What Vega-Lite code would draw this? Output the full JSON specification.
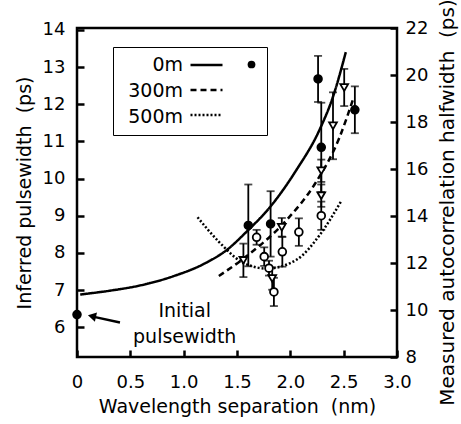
{
  "$schema": "https://vega.github.io/schema/vega-lite/v6.json",
  "width": 320,
  "height": 329,
  "autosize": {"type": "none"},
  "padding": {"left": 77, "top": 28, "right": 64, "bottom": 67},
  "background": "white",
  "config": {
    "view": {"stroke": "black", "strokeWidth": 2.5},
    "axis": {
      "grid": false,
      "domain": false,
      "ticks": true,
      "zindex": 1,
      "offset": -7,
      "tickSize": 7,
      "tickColor": "black",
      "tickWidth": 2.5,
      "tickOpacity": 1,
      "labelFont": "DejaVu Sans",
      "labelFontSize": 18,
      "labelColor": "black",
      "titleFont": "DejaVu Sans",
      "titleFontSize": 19,
      "titleFontWeight": "normal",
      "titleColor": "black",
      "labelOverlap": false,
      "labelFlush": false
    },
    "legend": {
      "labelFont": "DejaVu Sans",
      "labelFontSize": 19,
      "labelColor": "black"
    }
  },
  "datasets": {
    "curves": [
      {"series": "0m", "x": 0.03, "y": 6.88},
      {"series": "0m", "x": 0.3, "y": 6.98},
      {"series": "0m", "x": 0.6, "y": 7.13},
      {"series": "0m", "x": 0.9, "y": 7.37},
      {"series": "0m", "x": 1.2, "y": 7.72},
      {"series": "0m", "x": 1.4, "y": 8.07},
      {"series": "0m", "x": 1.6, "y": 8.6},
      {"series": "0m", "x": 1.8, "y": 9.2},
      {"series": "0m", "x": 2.05, "y": 10.2},
      {"series": "0m", "x": 2.28, "y": 11.35},
      {"series": "0m", "x": 2.4, "y": 12.2},
      {"series": "0m", "x": 2.52, "y": 13.4},
      {"series": "300m", "x": 1.33, "y": 7.38},
      {"series": "300m", "x": 1.62, "y": 7.98},
      {"series": "300m", "x": 1.97, "y": 8.9},
      {"series": "300m", "x": 2.24, "y": 9.9},
      {"series": "300m", "x": 2.46, "y": 11.1},
      {"series": "300m", "x": 2.59, "y": 12.15},
      {"series": "500m", "x": 1.13, "y": 8.96},
      {"series": "500m", "x": 1.33, "y": 8.3},
      {"series": "500m", "x": 1.55, "y": 7.75},
      {"series": "500m", "x": 1.78, "y": 7.58},
      {"series": "500m", "x": 2.06, "y": 7.82},
      {"series": "500m", "x": 2.28, "y": 8.5},
      {"series": "500m", "x": 2.48, "y": 9.41}
    ],
    "points": [
      {"series": "0m", "x": 0, "y": 6.34, "lo": null, "hi": null},
      {"series": "0m", "x": 1.606, "y": 8.74, "lo": 7.64, "hi": 9.84},
      {"series": "0m", "x": 1.815, "y": 8.78, "lo": 7.9, "hi": 9.66},
      {"series": "0m", "x": 2.26, "y": 12.68, "lo": 12.06, "hi": 13.3},
      {"series": "0m", "x": 2.29, "y": 10.84, "lo": 9.64, "hi": 12.04},
      {"series": "0m", "x": 2.605, "y": 11.85, "lo": 11.22, "hi": 12.48},
      {"series": "300m", "x": 1.56, "y": 7.8, "lo": 7.35, "hi": 8.25},
      {"series": "300m", "x": 1.83, "y": 7.31, "lo": 7.01, "hi": 7.61},
      {"series": "300m", "x": 1.92, "y": 8.69, "lo": 8.44, "hi": 8.94},
      {"series": "300m", "x": 2.29, "y": 10.21, "lo": 9.91, "hi": 10.51},
      {"series": "300m", "x": 2.29, "y": 9.54, "lo": 9.24, "hi": 9.84},
      {"series": "300m", "x": 2.4, "y": 11.42, "lo": 10.52, "hi": 12.32},
      {"series": "300m", "x": 2.505, "y": 12.45, "lo": 11.95, "hi": 12.95},
      {"series": "500m", "x": 1.684, "y": 8.42, "lo": 8.22, "hi": 8.62},
      {"series": "500m", "x": 1.755, "y": 7.9, "lo": 7.65, "hi": 8.15},
      {"series": "500m", "x": 1.8, "y": 7.59, "lo": 7.39, "hi": 7.79},
      {"series": "500m", "x": 1.846, "y": 6.95, "lo": 6.57, "hi": 7.33},
      {"series": "500m", "x": 1.925, "y": 8.03, "lo": 7.63, "hi": 8.43},
      {"series": "500m", "x": 2.08, "y": 8.56, "lo": 8.19, "hi": 8.93},
      {"series": "500m", "x": 2.29, "y": 9.0, "lo": 8.62, "hi": 9.38}
    ],
    "arrow": [
      {"x": 0.403, "y": 6.13},
      {"x": 0.16, "y": 6.28}
    ],
    "arrowhead": [
      {"x": 0.14, "y": 6.295}
    ],
    "notes": [
      {"x": 1.01, "y": 6.45, "text": "Initial"},
      {"x": 1.01, "y": 5.73, "text": "pulsewidth"}
    ],
    "right": [
      {"r": 8},
      {"r": 22}
    ]
  },
  "layer": [
    {
      "layer": [
        {
          "data": {"name": "curves"},
          "mark": {"type": "line", "color": "black", "strokeWidth": 2.5, "interpolate": "monotone", "clip": true},
          "encoding": {
            "x": {"field": "x", "type": "quantitative", "title": "Wavelength separation\u00a0 (nm)", "scale": {"domain": [0, 3], "nice": false},
              "axis": {"values": [0, 0.5, 1, 1.5, 2, 2.5, 3], "ticks": true, "tickSize": 7, "tickColor": "black", "tickWidth": 2.5,
                "labelExpr": "datum.value == 0 ? '0' : format(datum.value, '.1f')",
                "labelPadding": 16, "titlePadding": 6}},
            "y": {"field": "y", "type": "quantitative", "title": "Inferred pulsewidth\u00a0 (ps)", "scale": {"domain": [5.2, 14.05], "nice": false, "zero": false},
              "axis": {"values": [6, 7, 8, 9, 10, 11, 12, 13, 14], "ticks": true, "tickSize": 7, "tickColor": "black", "tickWidth": 2.5,
                "labelPadding": 12, "titlePadding": 8}},
            "strokeDash": {"field": "series", "type": "nominal",
              "scale": {"range": [[1, 0], [6, 4], [2, 2]]},
              "legend": {"title": null, "orient": "none", "legendX": 104, "legendY": 18,
                "labelExpr": "''", "symbolType": "stroke", "symbolSize": 1024, "symbolStrokeWidth": 2.5,
                "symbolStrokeColor": "black", "clipHeight": 22, "rowPadding": 3, "padding": 8, "symbolOffset": 0}}
          }
        },
        {
          "data": {"name": "points"},
          "transform": [{"filter": "datum.lo != null"}],
          "mark": {"type": "errorbar", "color": "black", "rule": {"strokeWidth": 1.8}, "ticks": {"size": 8, "thickness": 1.8}},
          "encoding": {
            "x": {"field": "x", "type": "quantitative", "title": "Wavelength separation\u00a0 (nm)", "scale": {"domain": [0, 3], "nice": false}},
            "y": {"field": "lo", "type": "quantitative", "title": "Inferred pulsewidth\u00a0 (ps)", "scale": {"domain": [5.2, 14.05], "nice": false, "zero": false}},
            "y2": {"field": "hi"}
          }
        },
        {
          "data": {"name": "points"},
          "mark": {"type": "point", "filled": false, "color": "black", "strokeWidth": 1.8, "size": 60, "opacity": 1, "clip": false},
          "encoding": {
            "x": {"field": "x", "type": "quantitative", "title": "Wavelength separation\u00a0 (nm)", "scale": {"domain": [0, 3], "nice": false}},
            "y": {"field": "y", "type": "quantitative", "title": "Inferred pulsewidth\u00a0 (ps)", "scale": {"domain": [5.2, 14.05], "nice": false, "zero": false}},
            "shape": {"field": "series", "type": "nominal",
              "scale": {"range": ["circle", "triangle-down", "circle"]},
              "legend": {"title": null, "orient": "none", "legendX": 36, "legendY": 19, "labelAlign": "right",
                "labelOffset": -78, "symbolOffset": 121, "rowPadding": 6, "padding": 8,
                "strokeColor": "black", "symbolStrokeColor": "black", "symbolStrokeWidth": 1.8, "symbolSize": 60,
                "encode": {"symbols": {"update": {"stroke": {"value": "black"}, "strokeWidth": {"value": 1.8}}}}}},
            "fill": {"field": "series", "type": "nominal",
              "scale": {"range": ["black", "white", "white"]},
              "legend": {"title": null, "orient": "none", "legendX": 36, "legendY": 19, "labelAlign": "right",
                "labelOffset": -78, "symbolOffset": 121, "rowPadding": 6, "padding": 8,
                "strokeColor": "black", "symbolStrokeColor": "black", "symbolStrokeWidth": 1.8, "symbolSize": 60,
                "encode": {"symbols": {"update": {"stroke": {"value": "black"}, "strokeWidth": {"value": 1.8}}}}}}
          }
        },
        {
          "data": {"name": "arrow"},
          "mark": {"type": "line", "color": "black", "strokeWidth": 2.5},
          "encoding": {
            "x": {"field": "x", "type": "quantitative", "title": "Wavelength separation\u00a0 (nm)", "scale": {"domain": [0, 3], "nice": false}},
            "y": {"field": "y", "type": "quantitative", "title": "Inferred pulsewidth\u00a0 (ps)", "scale": {"domain": [5.2, 14.05], "nice": false, "zero": false}}
          }
        },
        {
          "data": {"name": "arrowhead"},
          "mark": {"type": "point", "shape": "triangle-left", "filled": true, "color": "black", "size": 90, "angle": 13, "opacity": 1},
          "encoding": {
            "x": {"field": "x", "type": "quantitative", "title": "Wavelength separation\u00a0 (nm)", "scale": {"domain": [0, 3], "nice": false}},
            "y": {"field": "y", "type": "quantitative", "title": "Inferred pulsewidth\u00a0 (ps)", "scale": {"domain": [5.2, 14.05], "nice": false, "zero": false}}
          }
        },
        {
          "data": {"name": "notes"},
          "mark": {"type": "text", "font": "DejaVu Sans", "fontSize": 19, "color": "black", "align": "center", "baseline": "middle"},
          "encoding": {
            "x": {"field": "x", "type": "quantitative", "title": "Wavelength separation\u00a0 (nm)", "scale": {"domain": [0, 3], "nice": false}},
            "y": {"field": "y", "type": "quantitative", "title": "Inferred pulsewidth\u00a0 (ps)", "scale": {"domain": [5.2, 14.05], "nice": false, "zero": false}},
            "text": {"field": "text"}
          }
        }
      ]
    },
    {
      "data": {"name": "right"},
      "mark": {"type": "point", "opacity": 0},
      "encoding": {
        "y": {"field": "r", "type": "quantitative", "title": "Measured autocorrelation halfwidth\u00a0 (ps)", "scale": {"domain": [8, 22], "nice": false, "zero": false},
          "axis": {"orient": "right", "ticks": true, "tickSize": 7, "tickColor": "black", "tickWidth": 2.5,
            "values": [8, 10, 12, 14, 16, 18, 20, 22], "labelPadding": 8, "titleFontSize": 20,
            "titlePadding": 10, "titleAngle": 270, "titleBaseline": "top", "titleY": 174}}
      }
    }
  ],
  "resolve": {"scale": {"y": "independent"}}
}
